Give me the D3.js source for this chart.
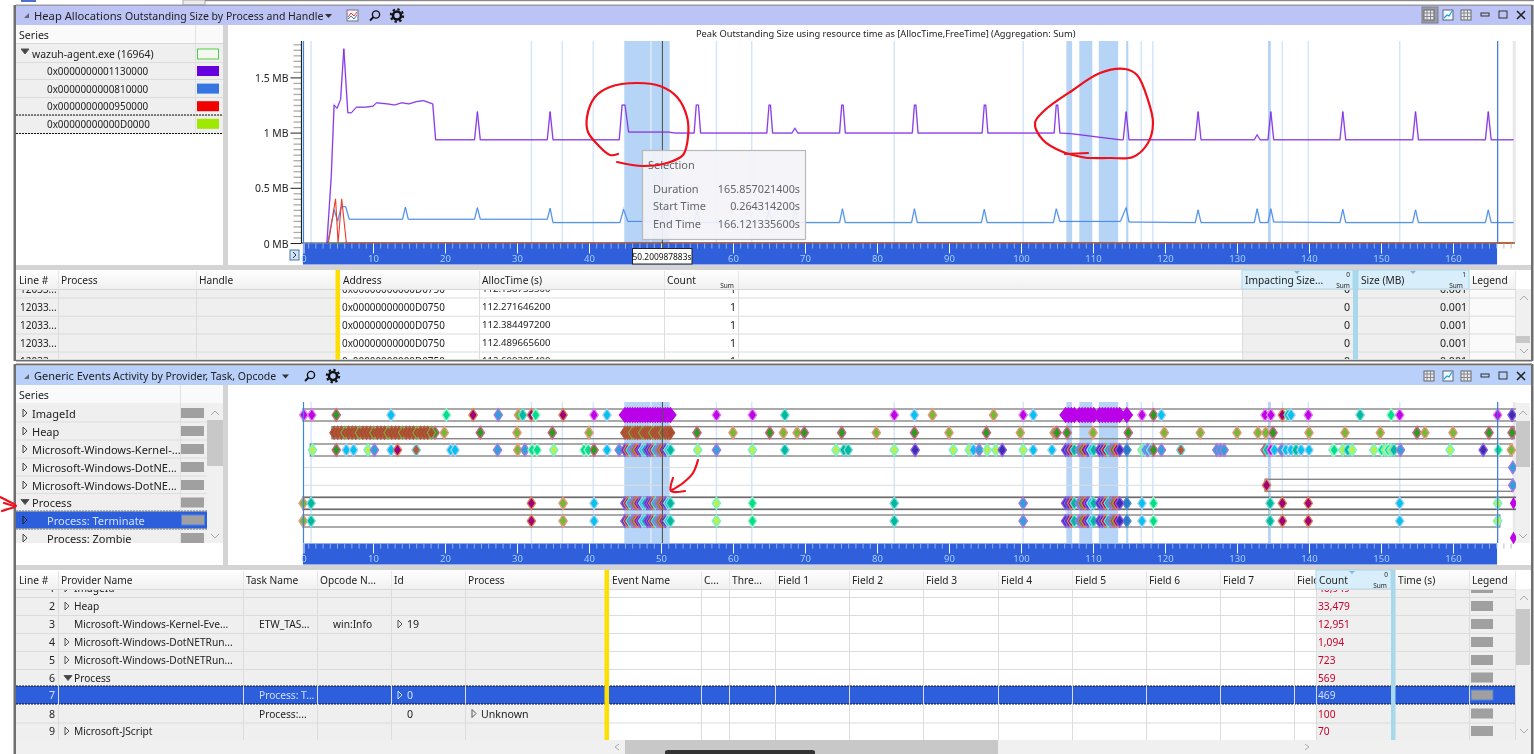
<!DOCTYPE html>
<html>
<head>
<meta charset="utf-8">
<script src="https://cdn.jsdelivr.net/npm/d3@7"></script>
<style>
html, body { margin: 0; padding: 0; background: #fff; overflow: hidden; }
svg { display: block; filter: blur(0.35px); }
text { font-family: "Noto Sans", sans-serif; font-size: 11px; fill: #222; dominant-baseline: central; }
</style>
</head>
<body>
<script>
// ---- heap chart values (seconds / MB)
const purpleTime = [3.6,4.2,4.6,5.0,5.5,5.95,6.5,7.0,7.7,9,10,10.5,12,13,14,15,16,17,18.3,18.7,24.1,24.5,24.9,34.2,34.6,35,44.2,44.6,45,45.5,51,52,54.6,54.9,55.2,55.5,64.7,65,65.2,65.5,68.2,68.6,69,74.8,75.1,75.3,75.6,84.9,85.2,85.4,85.7,94.6,94.9,95.1,95.4,104.6,104.9,105.1,105.4,107,110,113.8,114.2,114.6,115,124.2,124.6,125,132.4,132.8,133.2,134.3,134.7,135.1,144.3,144.7,145.1,154.4,154.8,155.2,164.5,164.9,165.3,168.4];
const purpleMB = [0,0.6,1.25,1.22,1.3,1.76,1.18,1.18,1.23,1.23,1.24,1.27,1.26,1.25,1.27,1.26,1.28,1.29,1.26,0.935,0.935,1.19,0.935,0.935,1.19,0.935,0.935,1.25,1.25,1.005,1.005,0.996,0.996,1.25,1.25,0.996,0.996,1.25,1.25,0.996,0.996,1.04,0.996,0.996,1.25,1.25,0.996,0.996,1.25,1.25,0.996,0.996,1.25,1.25,0.996,0.996,1.25,1.25,0.996,0.99,0.965,0.935,0.935,1.19,0.935,0.935,1.19,0.935,0.935,0.98,0.935,0.935,1.19,0.935,0.935,1.19,0.935,0.935,1.19,0.935,0.935,1.19,0.935,0.935];
const blueTime = [3.7,4.6,5.1,5.6,6.2,6.7,14.1,14.5,14.9,24.1,24.5,24.9,34.2,34.6,35,44.3,44.8,45.4,51,54.6,55,55.4,64.6,65,65.4,68.2,68.6,69,74.8,75.2,75.6,84.8,85.2,85.6,94.5,94.9,95.3,104.5,104.9,105.4,113.8,114.6,115,124.2,124.6,125,132.4,132.8,133.2,134.3,134.7,135.1,144.3,144.7,145.1,154.4,154.8,155.2,164.5,164.9,165.3,168.4];
const blueMB = [0,0.3,0.2,0.33,0.33,0.215,0.215,0.325,0.215,0.215,0.32,0.215,0.215,0.315,0.185,0.185,0.305,0.195,0.195,0.185,0.3,0.185,0.185,0.3,0.185,0.185,0.3,0.185,0.185,0.31,0.185,0.185,0.31,0.185,0.185,0.305,0.185,0.185,0.31,0.195,0.195,0.32,0.19,0.185,0.3,0.185,0.185,0.31,0.185,0.185,0.31,0.19,0.185,0.305,0.185,0.185,0.3,0.185,0.185,0.3,0.185,0.185];
const redTime = [3.8,4.8,5.15,5.65,6.3,168.4];
const redMB = [0,0.4,0,0.4,0,0];
const greenTime = [3.8,168.4];
const greenMB = [0,0];

const yMajor = [0, 0.5, 1, 1.5];
const yMinor = [0.05,0.1,0.15,0.2,0.25,0.3,0.35,0.4,0.45,0.55,0.6,0.65,0.7,0.75,0.8,0.85,0.9,0.95,1.05,1.1,1.15,1.2,1.25,1.3,1.35,1.4,1.45,1.55,1.6,1.65,1.7,1.75,1.8];
const xMajor = [0,10,20,30,40,50,60,70,80,90,100,110,120,130,140,150,160];
const selectionBands = [[44.9,51.2],[106.3,107.1],[108.1,109.9],[110.8,113.5],[114.6,114.9],[134.3,134.7]];
const selectionLines = [1.4,32,36.3,40.6,48.6,57.7,62.6,82.4,100.3,116.7,118.3,136.3,139.9,152.6];

// ---- event rows, [time, colour key]
const rowImage = [[0.4,'m'],[1.5,'m'],[4.9,'G'],[12.5,'c'],[20.2,'s'],[23.9,'d'],[27.4,'v'],[30.2,'o'],[30.8,'t'],[32,'d'],[32.6,'s'],[36.4,'d'],[40.7,'m'],[42.5,'c'],[57.7,'m'],[62.7,'m'],[67.2,'t'],[82.4,'m'],[85.2,'c'],[87.7,'o'],[96.2,'o'],[100.3,'m'],[101.7,'c'],[114.7,'M'],[116.8,'m'],[118.4,'G'],[119.5,'c'],[133.9,'m'],[134.7,'m'],[136.3,'d'],[137.1,'t'],[137.5,'c'],[139.9,'m'],[147.1,'t'],[151.4,'s'],[152.6,'m'],[166.2,'m'],[168.2,'p']];
const rowHeap = [[18.6,'G'],[19.9,'o'],[24.9,'G'],[30,'o'],[34.9,'G'],[40,'o'],[51.2,'G'],[55,'G'],[60,'o'],[65.1,'G'],[67,'o'],[68.9,'o'],[69.9,'G'],[75.1,'G'],[79.9,'o'],[85.2,'G'],[90,'o'],[95.2,'G'],[99.9,'o'],[104.6,'o'],[105,'G'],[106.4,'G'],[110,'o'],[114.9,'G'],[119.9,'o'],[124.9,'o'],[130,'o'],[132.9,'o'],[134,'o'],[135,'G'],[140,'o'],[145,'o'],[149.9,'o'],[155,'G'],[156.1,'o'],[160,'o'],[165,'G'],[168.2,'G']];
const rowKernel = [[1.6,'y'],[4.9,'G'],[6.3,'c'],[7.3,'c'],[9.3,'y'],[10.2,'v'],[12.5,'c'],[13.4,'d'],[16,'r'],[20.8,'c'],[21.4,'c'],[27.3,'v'],[30.1,'o'],[31.1,'v'],[32.1,'s'],[32.8,'s'],[35.1,'y'],[39.3,'s'],[39.9,'s'],[40.7,'G'],[42.5,'c'],[44.2,'v'],[55.1,'y'],[57.7,'v'],[62.7,'y'],[67.2,'t'],[74.3,'y'],[75.4,'t'],[76,'t'],[82.4,'y'],[85.3,'p'],[90.6,'y'],[92.8,'y'],[93.4,'c'],[94.2,'v'],[95.3,'y'],[96.5,'y'],[97.4,'p'],[100.3,'y'],[101.7,'c'],[104.3,'c'],[114.7,'b'],[116.8,'y'],[117.2,'c'],[117.6,'v'],[118,'c'],[118.4,'G'],[119.5,'v'],[122.2,'r'],[127.2,'v'],[127.7,'v'],[128.2,'v'],[133.9,'G'],[134.2,'t'],[134.7,'m'],[135.2,'c'],[136.2,'v'],[136.8,'c'],[137.5,'c'],[138.2,'t'],[138.9,'c'],[140,'c'],[143.3,'s'],[143.5,'s'],[144.7,'y'],[145.4,'t'],[146,'y'],[149,'y'],[150.1,'s'],[150.6,'y'],[151,'s'],[151.4,'y'],[151.8,'t'],[152.7,'v'],[159.6,'y'],[164.2,'p'],[166.3,'s'],[168.1,'o']];
const rowProcess = [[0.3,'o'],[1.4,'t'],[32,'d'],[36.4,'o'],[40.7,'c'],[57.7,'y'],[62.7,'s'],[82.4,'t'],[100.3,'v'],[114.7,'b'],[116.8,'c'],[118.4,'s'],[134.6,'t'],[136.3,'d'],[139.9,'d'],[152.6,'c'],[166.2,'y']];
const rowEnd = [[168.3,'v']];
const rowZombie = [[134.1,'d'],[168.3,'v']];

// overlapping runs of events
const heapRun = [4.6,5.1,5.6,6.1,6.6,7.1,7.6,8.1,8.6,9.1,9.6,10.1,10.6,11.1,11.6,12.1,12.6,13.1,13.6,14.1,14.6,15.1,15.6,16.1,16.6,17.1,17.6,18.1];
const runA = [45,45.35,45.7,46.05,46.4,46.75,47.1,47.45,47.8,48.15,48.5,48.85,49.2,49.55,49.9,50.25,50.6,50.95,51.3];
const runB = [106.2,106.6,107,107.4];
const runC = [108.1,108.5,108.9,109.3,109.7,110.1];
const runD = [110.9,111.3,111.7,112.1,112.5,112.9,113.3,113.7];
const runColors = ['p','d','t','v','G','d','p','c','t','p'];
const heapRunColors = ['h','h','h','j'];

// ---- tables
const heapColumns = [['Line #',16,58],['Process',58,196],['Handle',196,336],['Address',340,479],['AllocTime (s)',479,664],['Count',664,738],['',738,1242],['Impacting Size...',1242,1353],['Size (MB)',1358,1469],['Legend',1469,1515]];
const heapLines = ['12033...','12033...','12033...','12033...','12033...'];
const heapAddress = ['0x00000000000D0750','0x00000000000D0750','0x00000000000D0750','0x00000000000D0750','0x00000000000D0750'];
const heapAlloc = ['112.138733500','112.271646200','112.384497200','112.489665600','112.600385400'];
const heapCount = ['1','1','1','1','1'];
const heapImpact = ['0','0','0','0','0'];
const heapSize = ['0.001','0.001','0.001','0.001','0.001'];

const eventColumns = [['Line #',16,58],['Provider Name',58,243],['Task Name',243,317],['Opcode N...',317,391],['Id',391,465],['Process',465,605],['Event Name',609,701],['C...',701,729],['Thre...',729,775],['Field 1',775,849],['Field 2',849,923],['Field 3',923,998],['Field 4',998,1072],['Field 5',1072,1146],['Field 6',1146,1220],['Field 7',1220,1294],['Field',1294,1316],['Count',1316,1391],['Time (s)',1395,1469],['Legend',1469,1515]];
const eventLines = ['1','2','3','4','5','6','7','8','9'];
const eventProvider = ['ImageId','Heap','Microsoft-Windows-Kernel-Eve...','Microsoft-Windows-DotNETRun...','Microsoft-Windows-DotNETRun...','Process','','','Microsoft-JScript'];
const eventExpander = ['r','r','','r','r','d','','','r'];
const eventTask = ['','','ETW_TAS...','','','','Process: T...','Process:...',''];
const eventOpcode = ['','','win:Info','','','','','',''];
const eventId = ['','','19','','','','0','0',''];
const eventProcess = ['','','','','','','','Unknown',''];
const eventCount = ['46,949','33,479','12,951','1,094','723','569','469','100','70'];

const heapSeriesNames = ['0x0000000001130000','0x0000000000810000','0x0000000000950000','0x00000000000D0000'];
const heapSeriesColors = ['#6600dd','#3674e4','#f20000','#9fe800'];
const eventSeries = ['ImageId','Heap','Microsoft-Windows-Kernel-...','Microsoft-Windows-DotNE...','Microsoft-Windows-DotNE...','Process','Process: Terminate','Process: Zombie'];

const palette = {
  m: ['#c000e8','#e080f0'], M: ['#ba00e8','#ba00e8'], c: ['#00c4ee','#a8cef4'], G: ['#2c9c20','#d8608e'], o: ['#78b838','#ec9880'],
  s: ['#00e08c','#a0f4cc'], t: ['#00b8a0','#70dcd4'], y: ['#b8f050','#70f4d8'], d: ['#a00078','#dc8058'],
  v: ['#30a0d8','#a87ae4'], p: ['#3c30b0','#9058ec'], r: ['#b85838','#70d0dc'], b: ['#2a78c8','#4a90d0'],
  h: ['#a84c30','#b05838'], j: ['#a84c30','#88a040']
};

const width = 1534, height = 754;
const svg = d3.select('body').append('svg').attr('width', width).attr('height', height);
const x = d3.scaleLinear().domain([0, 160]).range([301, 1453]);
const y = d3.scaleLinear().domain([0, 1.5]).range([243, 77.4]);

function rect(g, x0, y0, w, h, fill, stroke, sw) {
  return g.append('rect').attr('x', x0).attr('y', y0).attr('width', w).attr('height', h)
    .attr('fill', fill).attr('stroke', stroke || 'none').attr('stroke-width', sw || 1);
}
function label(g, x0, y0, str, opts) {
  opts = opts || {};
  return g.append('text').attr('x', x0).attr('y', y0).text(str)
    .attr('text-anchor', opts.anchor || 'start')
    .style('font-size', (opts.size || 10.6) + 'px')
    .style('fill', opts.fill || '#222');
}
function tri(g, x0, y0, dir, col) {
  const p = dir === 'r' ? `M${x0},${y0-4}L${x0+4},${y0}L${x0},${y0+4}Z` : `M${x0-1},${y0-2}L${x0+7},${y0-2}L${x0+3},${y0+3}Z`;
  g.append('path').attr('d', p).attr('fill', dir === 'r' ? 'none' : '#444').attr('stroke', col || '#444');
}
function gear(g, cx, cy) {
  g.append('circle').attr('cx', cx).attr('cy', cy).attr('r', 4).attr('fill', 'none').attr('stroke', '#111').attr('stroke-width', 2.6);
  g.append('circle').attr('cx', cx).attr('cy', cy).attr('r', 6.2).attr('fill', 'none').attr('stroke', '#111').attr('stroke-width', 2).attr('stroke-dasharray', '2.4 2.4');
}
function glass(g, cx, cy) {
  g.append('circle').attr('cx', cx + 1).attr('cy', cy - 1).attr('r', 3.6).attr('fill', 'none').attr('stroke', '#111').attr('stroke-width', 1.4);
  g.append('line').attr('x1', cx - 1.5).attr('y1', cy + 1.5).attr('x2', cx - 5).attr('y2', cy + 5).attr('stroke', '#111').attr('stroke-width', 1.8);
}
function windowButtons(g, cy, selected) {
  if (selected) rect(g, 1422, cy - 8, 16, 16, '#9a9aa8', '#80808c');
  const gridIcon = (cx) => { rect(g, cx - 5, cy - 5, 10, 10, '#e8e8f0', '#666');
    [-2, 1.5].forEach(d => { g.append('line').attr('x1', cx + d).attr('x2', cx + d).attr('y1', cy - 5).attr('y2', cy + 5).attr('stroke', '#888');
      g.append('line').attr('y1', cy + d).attr('y2', cy + d).attr('x1', cx - 5).attr('x2', cx + 5).attr('stroke', '#888'); }); };
  gridIcon(1429);
  rect(g, 1443, cy - 5, 10, 10, '#f4f8ff', '#567');
  g.append('path').attr('d', `M1444,${cy+3}L1447,${cy}L1449,${cy+1}L1452,${cy-4}`).attr('fill', 'none').attr('stroke', '#18a0e0').attr('stroke-width', 1.2);
  gridIcon(1466);
  rect(g, 1481, cy - 2, 8, 3, 'none', '#333');
  rect(g, 1499, cy - 4, 8, 7, 'none', '#333');
  g.append('path').attr('d', `M1517,${cy-4}L1525,${cy+4}M1525,${cy-4}L1517,${cy+4}`).attr('stroke', '#222').attr('stroke-width', 1.6);
}
function cornerTri(g, cy) {
  g.append('path').attr('d', `M24,${cy+3}L29,${cy+3}L29,${cy-2}Z`).attr('fill', '#666');
}

// ---- window chrome
const chrome = svg.append('g');
rect(chrome, 183, 0, 22, 5, '#ededed', '#aaa');
rect(chrome, 205, 0, 1329, 1.2, '#8a8a8a');
rect(chrome, 21, 0, 15, 2, '#5070d0');
rect(chrome, 16, 6, 1515, 354, '#ffffff');
rect(chrome, 16, 365, 1515, 389, '#ffffff');
rect(chrome, 16, 6, 1515, 19, '#bcc4f6');
rect(chrome, 16, 366, 1515, 19, '#b8d0fa');
rect(chrome, 13.5, 5, 2.5, 356, '#6e6e6e');
rect(chrome, 13.5, 364, 2.5, 390, '#6e6e6e');
rect(chrome, 16, 4.5, 1516, 1.5, '#9a9aa6');
rect(chrome, 16, 359.5, 1516, 2, '#6e6e6e');
rect(chrome, 16, 363.5, 1516, 2, '#6e6e6e');
rect(chrome, 1531, 5, 2.5, 356, '#6e6e6e');
rect(chrome, 1531, 364, 2.5, 390, '#6e6e6e');

cornerTri(chrome, 15);
label(chrome, 34, 15, 'Heap Allocations', { size: 11.2 });
label(chrome, 125, 15.5, 'Outstanding Size by Process and Handle', { size: 10.5 });
chrome.append('path').attr('d', 'M325,14L332,14L328.5,18Z').attr('fill', '#333');
rect(chrome, 347, 10, 11, 11, '#f8f0f4', '#777');
chrome.append('path').attr('d', 'M348,17L351,13L354,16L357,12').attr('fill', 'none').attr('stroke', '#e04050');
chrome.append('path').attr('d', 'M348,19L351,16L354,19L357,15').attr('fill', 'none').attr('stroke', '#3090e0');
glass(chrome, 375, 15.5);
gear(chrome, 397, 15.5);
windowButtons(chrome, 15, true);

cornerTri(chrome, 376);
label(chrome, 34, 375.5, 'Generic Events', { size: 11 });
label(chrome, 113, 376, 'Activity by Provider, Task, Opcode', { size: 10.5 });
chrome.append('path').attr('d', 'M282,374.5L289,374.5L285.5,378.5Z').attr('fill', '#333');
glass(chrome, 310, 376);
gear(chrome, 333, 376);
windowButtons(chrome, 376, false);

// series panes
function seriesHeader(yTop, colX) {
  rect(chrome, 16, yTop, 207, 18, '#fafafa');
  rect(chrome, colX, yTop, 1, 18, '#e2e2e2');
  label(chrome, 19, yTop + 9.5, 'Series');
  rect(chrome, 223, yTop, 5, 240, '#d4d4d4');
}
seriesHeader(25, 195);
rect(chrome, 16, 43, 207, 1, '#d8d8d8');
rect(chrome, 16, 44, 207, 90, '#efefef');
rect(chrome, 16, 134, 207, 131, '#ffffff');
rect(chrome, 195, 44, 1, 90, '#e0e0e0');
[62, 79, 97, 115].forEach(v => rect(chrome, 16, v, 207, 1, '#dcdcdc'));
tri(chrome, 22, 51, 'd', '#555');
label(chrome, 32, 53.5, 'wazuh-agent.exe (16964)', { size: 10.4 });
rect(chrome, 197.5, 49, 21, 10, '#f4f8f0', '#50d040', 1);
chrome.selectAll('.hs').data(heapSeriesNames).enter().append('text').attr('class', 'hs')
  .attr('x', 47).attr('y', (d, i) => 71 + i * 17.6).style('font-size', '9.9px').text(d => d);
chrome.selectAll('.hsw').data(heapSeriesColors).enter().append('rect').attr('class', 'hsw')
  .attr('x', 197).attr('y', (d, i) => 66 + i * 17.6).attr('width', 22).attr('height', 10).attr('fill', d => d);
chrome.append('path').attr('d', 'M16,115H223M16,133.5H223').attr('stroke', '#111').attr('stroke-dasharray', '2 1');

seriesHeader(385, 180);
rect(chrome, 16, 403, 207, 140, '#efefef');
rect(chrome, 180, 403, 1, 140, '#e0e0e0');
rect(chrome, 207, 403, 16, 140, '#f0f0f0');
rect(chrome, 207, 420, 16, 46, '#c8c8c8');
chrome.append('path').attr('d', 'M211,415L215,411L219,415M211,534L215,538L219,534').attr('fill', 'none').attr('stroke', '#aaa');
rect(chrome, 16, 543, 207, 22, '#ffffff');
const eventRowY = [413, 431, 449, 467, 485, 502.5, 520, 538];
rect(chrome, 16, 511, 191, 18, '#2d5fdc');
chrome.append('path').attr('d', 'M16,511H207M16,529H207').attr('stroke', '#111').attr('stroke-dasharray', '2 1');
eventRowY.forEach((v, i) => {
  if (i) rect(chrome, 16, v - 9.5, 191, 1, '#dedede');
  const child = i >= 6;
  label(chrome, child ? 47 : 32, v, eventSeries[i], { fill: i === 6 ? '#cfe0ff' : '#222', size: 11 });
  if (i === 5) tri(chrome, 22, v - 1, 'd', '#555'); else tri(chrome, 23, v, 'r', i === 6 ? '#123' : '#444');
  rect(chrome, 181, v - 5, 23, 10, '#a0a0a0');
});
rect(chrome, 181.5, 515, 23, 10, '#a0a0a0', '#5080e0');

// ---- shared time decorations for a plot area
function drawSelection(g, top, bottom) {
  g.selectAll('.band').data(selectionBands).enter().append('rect').attr('class', 'band')
    .attr('x', d => x(d[0])).attr('width', d => x(d[1]) - x(d[0])).attr('y', top).attr('height', bottom - top)
    .attr('fill', '#b6d4f5');
  g.selectAll('.sel').data(selectionLines).enter().append('line').attr('class', 'sel')
    .attr('x1', d => x(d)).attr('x2', d => x(d)).attr('y1', top).attr('y2', bottom)
    .attr('stroke', d => (d > 44.9 && d < 51.2) ? '#dcebfb' : '#d5e6f8').attr('stroke-width', 1.5);
  rect(g, x(168.3), top, 3, bottom - top, '#e8e8e8');
}
function drawTimeAxis(g, top, labelValues) {
  rect(g, x(0.264), top, x(166.12) - x(0.264), 21, '#2f5fdb');
  const minorTicks = d3.range(1, 169).filter(v => v % 10 !== 0);
  const minorAxis = d3.axisBottom(x).tickValues(minorTicks).tickSize(5).tickFormat('');
  const m = g.append('g').attr('transform', `translate(0,${top})`).call(minorAxis);
  m.select('.domain').remove();
  m.selectAll('line').attr('stroke', d => d > 166 ? '#bbb' : '#8fb0f0');
  const majorAxis = d3.axisBottom(x).tickValues(xMajor).tickSize(10).tickPadding(1)
    .tickFormat(d => labelValues.indexOf(d) >= 0 ? d : '');
  const a = g.append('g').attr('transform', `translate(0,${top})`).call(majorAxis);
  a.select('.domain').remove();
  a.selectAll('line').attr('stroke', '#f4f8ff');
  a.selectAll('text').style('font-size', '9.5px').style('fill', '#a4ceff').attr('dy', '0.55em').attr('y', 10);
  a.selectAll('.tick').filter(d => d === 0).attr('transform', 'translate(304,0)');
}

// ---- heap chart
const heap = svg.append('g');
label(heap, 696, 33, 'Peak Outstanding Size using resource time as [AllocTime,FreeTime] (Aggregation: Sum)', { size: 9.3 });
drawSelection(heap, 41, 243);

const minorY = d3.axisLeft(y).tickValues(yMinor).tickSize(8).tickFormat('');
const gm = heap.append('g').attr('transform', 'translate(301.5,0)').call(minorY);
gm.select('.domain').remove();
gm.selectAll('line').attr('stroke', '#aaa').attr('stroke-width', 1.3);
const majorY = d3.axisLeft(y).tickValues(yMajor).tickSize(11).tickPadding(2).tickFormat(d => d + ' MB');
const gy = heap.append('g').attr('transform', 'translate(301.5,0)').call(majorY);
gy.select('.domain').remove();
gy.selectAll('line').attr('stroke', '#222');
gy.selectAll('text').style('font-size', '10.4px').style('fill', '#222').attr('dy', 0);
heap.append('line').attr('x1', 301.5).attr('x2', 301.5).attr('y1', 41).attr('y2', 243).attr('stroke', '#222').attr('stroke-width', 1.2);

const lineGen = (times) => d3.line().x((d, i) => x(times[i])).y(d => y(d));
heap.append('path').attr('d', lineGen(greenTime)(greenMB)).attr('fill', 'none').attr('stroke', heapSeriesColors[3]);
heap.append('path').attr('d', lineGen(blueTime)(blueMB)).attr('fill', 'none').attr('stroke', '#8ab8f4').attr('stroke-width', 1.7).attr('opacity', 0.5);
heap.append('path').attr('d', lineGen(blueTime)(blueMB)).attr('fill', 'none').attr('stroke', '#3f86e8').attr('stroke-width', 0.9);
heap.append('path').attr('d', lineGen(purpleTime)(purpleMB)).attr('fill', 'none').attr('stroke', '#a870f0').attr('stroke-width', 1.7).attr('opacity', 0.5);
heap.append('path').attr('d', lineGen(purpleTime)(purpleMB)).attr('fill', 'none').attr('stroke', '#7a24e4').attr('stroke-width', 0.9);
heap.append('line').attr('x1', 301.5).attr('x2', 1515).attr('y1', 243).attr('y2', 243).attr('stroke', '#333').attr('stroke-width', 1.2);
heap.append('path').attr('d', lineGen(redTime)(redMB)).attr('fill', 'none').attr('stroke', '#ee3a2a').attr('stroke-width', 1.1);

// the cursor time box sits on top of the 50 label in this chart
drawTimeAxis(heap, 243.5, xMajor.filter(v => v !== 50));
rect(heap, x(0.264), 41, 1.2, 202, '#3a86e0');
rect(heap, x(166.12), 41, 1.2, 202, '#3a78d8');
rect(heap, 290, 250, 9, 10, '#d4e4f4', '#4478a8');
heap.append('path').attr('d', 'M293,252L296,255L293,258').attr('fill', 'none').attr('stroke', '#234');

// ---- event chart
const ev = svg.append('g');
drawSelection(ev, 402, 543);
const rowY = [415, 432.7, 450, 467.5, 485.3, 503.3, 521];
// faint row guides
[467.5, 485.3].forEach(v => ev.append('line').attr('x1', 303).attr('x2', 1516).attr('y1', v).attr('y2', v).attr('stroke', '#dcdcdc'));
[[0.264, 168.9, 0], [4.3, 168.5, 1], [1.3, 168.2, 2], [133.9, 168.3, 4], [0.264, 168.9, 5], [0.264, 166.5, 6]].forEach(b => {
  ev.append('rect').attr('x', x(b[0])).attr('width', x(b[1]) - x(b[0]))
    .attr('y', rowY[b[2]] - 6).attr('height', 12).attr('fill', 'none')
    .attr('stroke', b[2] === 5 ? '#6a6a6a' : '#868686').attr('stroke-width', b[2] === 5 ? 1.7 : 1.4);
});
const diamond = d3.symbol().type(d3.symbolDiamond).size(46)();
function drawDiamonds(rowIndex, points) {
  ev.append('g').selectAll('path').data(points).enter().append('path')
    .attr('d', diamond)
    .attr('transform', d => `translate(${x(d[0])},${rowY[rowIndex]}) scale(${d[1] === 'M' ? 1.4 : 1.15},${d[1] === 'M' ? 1.05 : 1})`)
    .attr('fill', d => palette[d[1]][0])
    .attr('stroke', d => palette[d[1]][1])
    .attr('stroke-width', d => d[1] === 'M' ? 1.6 : 1.2);
}
const withColors = (times, cols) => times.map((t, i) => [t, cols[i % cols.length]]);
const allRuns = runA.concat(runB, runC, runD);

drawDiamonds(0, rowImage.concat(withColors(allRuns, ['M'])));
drawDiamonds(1, rowHeap.concat(withColors(heapRun.concat(runA), heapRunColors)));
drawDiamonds(2, rowKernel.concat(withColors(allRuns, runColors)));
drawDiamonds(3, rowEnd);
drawDiamonds(4, rowZombie);
drawDiamonds(5, rowProcess.concat(withColors(allRuns, runColors)));
drawDiamonds(6, rowProcess.concat(withColors(allRuns, runColors)));
ev.append('path').attr('d', diamond).attr('transform', `translate(${x(168.4)},503.3)`).attr('fill', palette.m[0]);
ev.append('path').attr('d', diamond).attr('transform', `translate(${x(168.4)},538)`).attr('fill', palette.m[0]);
rect(ev, 1516, 403, 15, 140, '#ffffff');
rect(ev, 1516, 403, 14, 140, '#f0f0f0');
rect(ev, 1516, 421, 14, 46, '#c8c8c8');
ev.append('path').attr('d', 'M1519,415L1523,411L1527,415M1519,534L1523,538L1527,534').attr('fill', 'none').attr('stroke', '#aaa');
rect(ev, 1516, 543, 15, 22, '#ffffff');
drawTimeAxis(ev, 543.5, xMajor);
rect(ev, x(0.264), 402, 1.2, 141, '#3a86e0');
rect(ev, x(166.12), 402, 1.2, 141, '#3a78d8');

// cursor across both charts
[[41, 248], [402, 543]].forEach(s => svg.append('line').attr('x1', x(50.2)).attr('x2', x(50.2))
  .attr('y1', s[0]).attr('y2', s[1]).attr('stroke', '#555').attr('stroke-width', 1.1));
rect(svg, 632.5, 248.5, 59.5, 15.5, '#fff', '#222');
label(svg, 662, 256.5, '50.200987883s', { anchor: 'middle', size: 8.4, fill: '#111' });

// ---- tooltip
const tip = svg.append('g');
rect(tip, 642.5, 150.5, 163, 89, 'rgba(243,243,249,0.93)', '#b8b8b8', 1.2);
label(tip, 648, 164, 'Selection', { fill: '#666', size: 11 });
const tipNames = ['Duration', 'Start Time', 'End Time'];
const tipValues = ['165.857021400s', '0.264314200s', '166.121335600s'];
tipNames.forEach((n, i) => {
  label(tip, 653, 188 + i * 17.6, n, { fill: '#666', size: 11 });
  label(tip, 800, 188 + i * 17.6, tipValues[i], { fill: '#666', anchor: 'end', size: 10.8 });
});

// ---- tables
function tableFrame(top, bottom) {
  const g = svg.append('g');
  rect(g, 16, top - 5, 1515, 5, '#d4d4d4');
  rect(g, 16, top, 1515, bottom - top, '#ffffff');
  return g;
}
function tableHeader(g, top, cols, accent) {
  g.append('rect').attr('x', 16).attr('y', top).attr('width', 1500).attr('height', 19).attr('fill', 'url(#hdr)');
  cols.forEach(c => {
    const on = accent.indexOf(c[0]) >= 0;
    if (on) rect(g, c[1], top, c[2] - c[1], 19, '#d8effb', '#a8d8f4');
    else rect(g, c[2], top + 1, 1, 18, '#e6e6e6');
    if (c[0]) label(g, c[1] + 3, top + 10, c[0], { size: 10.2 });
  });
  rect(g, 16, top + 19, 1500, 1, '#d8d8d8');
}
const defs = svg.append('defs').append('linearGradient').attr('id', 'hdr').attr('x1', 0).attr('x2', 0).attr('y1', 0).attr('y2', 1);
defs.append('stop').attr('offset', 0).attr('stop-color', '#ffffff');
defs.append('stop').attr('offset', 1).attr('stop-color', '#f0f0f0');
const clips = svg.append('defs');
clips.append('clipPath').attr('id', 'c1').append('rect').attr('x', 16).attr('y', 289).attr('width', 1500).attr('height', 70);
clips.append('clipPath').attr('id', 'c2').append('rect').attr('x', 16).attr('y', 589).attr('width', 1500).attr('height', 151);

// heap table
const t1 = tableFrame(270, 359.5);
const b1 = t1.append('g').attr('clip-path', 'url(#c1)');
rect(b1, 16, 289, 320, 70, '#efefef');
rect(b1, 1242, 289, 227, 70, '#efefef');
rect(b1, 1469, 289, 47, 70, '#fafafa');
const heapRowY = [288.5, 306.7, 324.5, 342.5, 360.5];
heapRowY.forEach((v, i) => {
  rect(b1, 16, v + 9, 1500, 1, '#dcdcdc');
  label(b1, 20, v, heapLines[i], { size: 10 });
  label(b1, 342, v, heapAddress[i], { size: 9.9 });
  label(b1, 482, v, heapAlloc[i], { size: 9.6 });
  label(b1, 736, v, heapCount[i], { anchor: 'end' });
  label(b1, 1350, v, heapImpact[i], { anchor: 'end' });
  label(b1, 1467, v, heapSize[i], { anchor: 'end' });
});
heapColumns.forEach(c => rect(b1, c[2], 289, 1, 70, '#dcdcdc'));
tableHeader(t1, 270, heapColumns, ['Impacting Size...', 'Size (MB)']);
rect(t1, 335.5, 270, 4.5, 89.5, '#ffdf00');
rect(t1, 1353, 270, 5, 89.5, '#a8d8ec');
label(t1, 727, 285, 'Sum', { size: 6.5, anchor: 'middle' });
label(t1, 1343, 285, 'Sum', { size: 6.5, anchor: 'middle' });
label(t1, 1348, 274, '0', { size: 6.5, anchor: 'middle' });
label(t1, 1456, 285, 'Sum', { size: 6.5, anchor: 'middle' });
label(t1, 1464, 274, '1', { size: 6.5, anchor: 'middle' });
t1.append('path').attr('d', 'M1294,271H1300L1297,274ZM1410,271H1416L1413,274Z').attr('fill', '#8ab4d8');
rect(t1, 1516, 289, 15, 70, '#f0f0f0');
rect(t1, 1516, 336, 14, 7, '#c8c8c8');
t1.append('path').attr('d', 'M1520,300L1524,296L1528,300M1520,349L1524,353L1528,349').attr('fill', 'none').attr('stroke', '#aaa');

// event table
const t2 = tableFrame(570, 754);
const b2 = t2.append('g').attr('clip-path', 'url(#c2)');
rect(b2, 16, 589, 589, 151, '#efefef');
rect(b2, 1316, 589, 200, 151, '#efefef');
const eventRowYs = [588, 606, 624, 642, 660, 677.5, 695, 713.5, 731];
eventRowYs.forEach((v, i) => {
  const sel = i === 6;
  if (sel) {
    rect(b2, 16, 686, 1500, 18, '#2d5fdc');
    b2.append('path').attr('d', 'M16,686H1516M16,704H1516').attr('stroke', '#111').attr('stroke-dasharray', '2 1');
  } else rect(b2, 16, v + 9, 1500, 1, '#dcdcdc');
  const col = sel ? '#cfe0ff' : '#222';
  label(b2, 55, v, eventLines[i], { anchor: 'end', fill: col });
  if (eventExpander[i]) tri(b2, 65, v, eventExpander[i], '#555');
  label(b2, 74, v, eventProvider[i], { size: 10.2 });
  label(b2, 259, v, eventTask[i], { fill: col, size: 10.2 });
  label(b2, 333, v, eventOpcode[i], { size: 10.2 });
  if (eventId[i]) {
    if (i !== 7) tri(b2, 398, v, 'r', sel ? '#cfe0ff' : '#555');
    label(b2, 407, v, eventId[i], { fill: col });
  }
  if (eventProcess[i]) { tri(b2, 472, v, 'r', '#555'); label(b2, 481, v, eventProcess[i]); }
  label(b2, 1318, v, eventCount[i], { fill: sel ? '#cfe0ff' : '#c8002a', size: 10.2 });
  rect(b2, 1471, v - 5, 22, 10, '#a0a0a0', sel ? '#5080e0' : 'none');
});
eventColumns.forEach(c => rect(b2, c[2], 589, 1, 151, '#dcdcdc'));
tableHeader(t2, 570, eventColumns, ['Count']);
rect(t2, 604.5, 570, 4.5, 170, '#ffdf00');
rect(t2, 1391, 570, 4.5, 170, '#a8d8ec');
label(t2, 1380, 585, 'Sum', { size: 6.5, anchor: 'middle' });
label(t2, 1386, 574, '0', { size: 6.5, anchor: 'middle' });
t2.append('path').attr('d', 'M1349,571H1355L1352,574Z').attr('fill', '#8ab4d8');
rect(t2, 1516, 589, 15, 151, '#f0f0f0');
rect(t2, 1516, 609, 14, 56, '#c8c8c8');
t2.append('path').attr('d', 'M1520,600L1524,596L1528,600M1520,729L1524,733L1528,729').attr('fill', 'none').attr('stroke', '#aaa');
rect(t2, 16, 740, 1515, 14, '#f0f0f0');
rect(t2, 625, 740, 373, 14, '#c8c8c8');
t2.append('path').attr('d', 'M619,744L615,747L619,750M1305,744L1309,747L1305,750').attr('fill', 'none').attr('stroke', '#aaa');
t2.append('path').attr('d', 'M665,754V752Q665,750 668,750H812Q815,750 815,752V754Z').attr('fill', '#333');

// ---- hand drawn red annotations
const ink = svg.append('g').attr('fill', 'none').attr('stroke', '#f0101c').attr('stroke-width', 2.2)
  .attr('stroke-linecap', 'round').attr('stroke-linejoin', 'round');
const freehand = d3.line().curve(d3.curveCatmullRom);
[
  [[618,154],[610,155],[598,145],[588,132],[587,117],[595,97],[610,87],[637,83],[660,86],[677,97],[687,117],[688,137],[683,155],[667,163],[643,166],[617,162]],
  [[1087,158],[1063,152],[1043,140],[1035,123],[1045,110],[1073,90],[1100,73],[1125,69],[1137,75],[1148,100],[1153,123],[1148,143],[1133,157],[1110,158],[1087,158]],
  [[1065,154],[1088,153]],
  [[698,460],[693,473],[683,483],[672,490]],
  [[673,478],[671,491],[685,491]],
  [[0,497],[8,501],[16,506],[8,509],[2,511]],
  [[4,503],[14,506]]
].forEach(p => ink.append('path').attr('d', freehand(p)));
</script>
</body>
</html>
